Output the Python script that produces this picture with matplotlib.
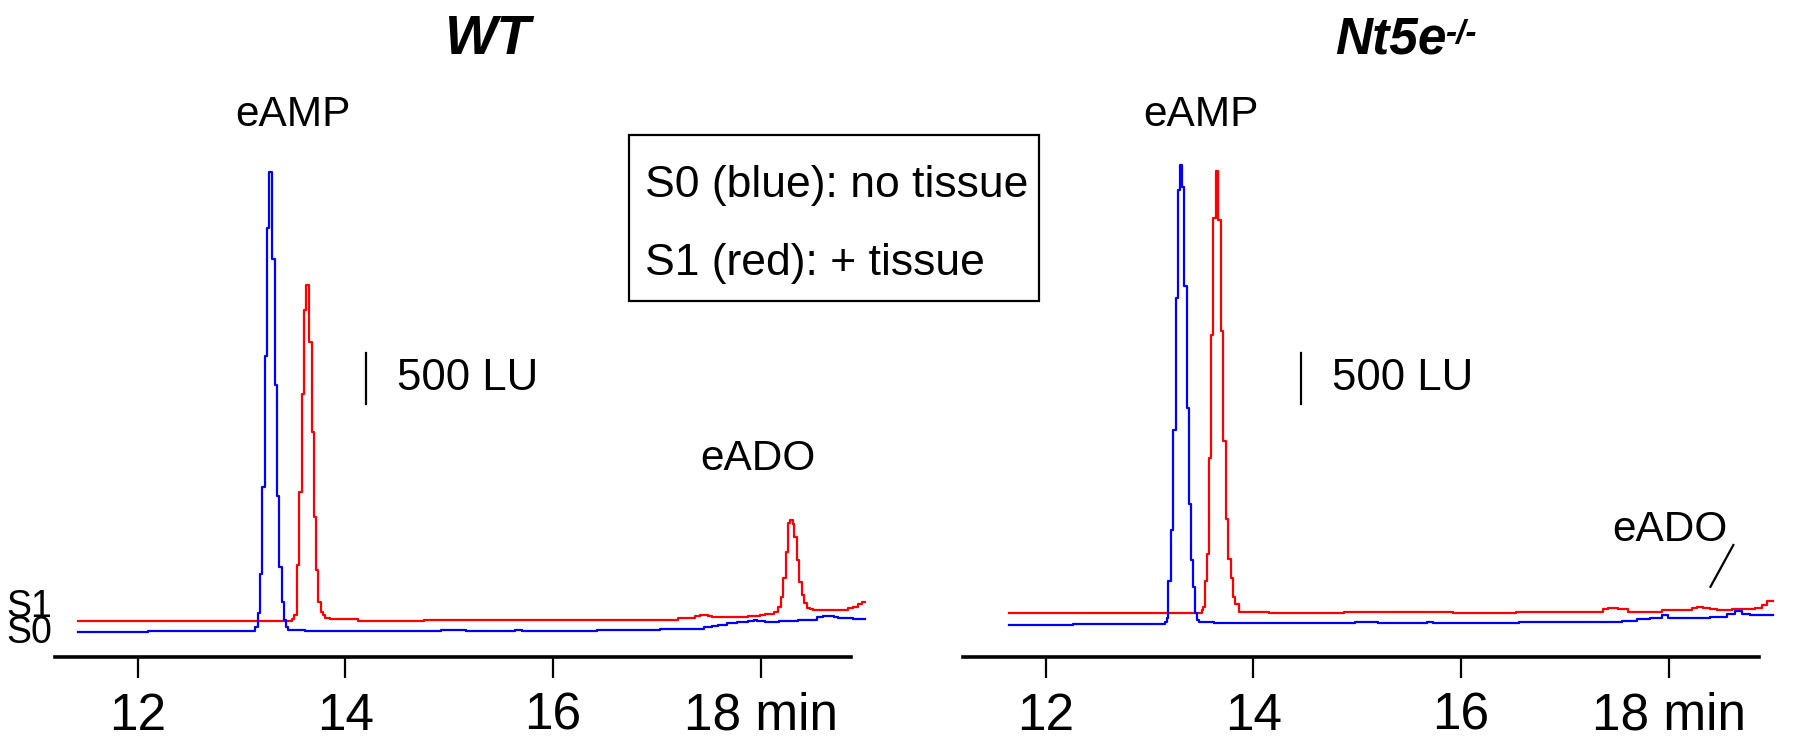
import matplotlib
matplotlib.use('Agg')
import matplotlib.pyplot as plt
from matplotlib.patches import Rectangle

# retention time (min) and signal (LU); each point is a step change of the trace
wt_s0_time = [11.43, 12.10, 13.131, 13.157, 13.179, 13.201, 13.227, 13.250, 13.266, 13.298,
              13.323, 13.346, 13.365, 13.388, 13.410, 13.426, 13.445, 13.484, 13.612, 14.92,
              15.16, 15.63, 15.70, 16.42, 17.03, 17.45, 17.53, 17.59, 17.67, 17.77,
              17.88, 17.93, 17.96, 18.04, 18.17, 18.36, 18.54, 18.60, 18.70, 18.74,
              18.89, 19.00]
wt_s0_lu = [-10, 0, 42, 172, 553, 1400, 2670, 3916, 4455, 3615,
            2393, 1310, 624, 278, 107, 36, 10, 12, 0, 10,
            0, 10, 0, 10, 22, 36, 49, 61, 75, 84,
            94, 107, 94, 84, 97, 107, 133, 149, 139, 126,
            113, 113]

wt_s1_time = [11.43, 13.484, 13.509, 13.532, 13.554, 13.580, 13.602, 13.622, 13.654, 13.676,
              13.699, 13.718, 13.740, 13.763, 13.782, 13.805, 13.853, 14.12, 14.76, 17.205,
              17.366, 17.414, 17.494, 17.526, 17.879, 17.991, 18.039, 18.126, 18.168, 18.193,
              18.216, 18.238, 18.258, 18.280, 18.306, 18.322, 18.344, 18.367, 18.393, 18.415,
              18.441, 18.473, 18.504, 18.841, 18.889, 18.937, 18.970, 19.00]
wt_s1_lu = [0, 14, 55, 540, 1251, 2204, 3019, 3256, 2707, 1833,
            1009, 492, 185, 88, 55, 23, 14, 0, 12, 29,
            46, 55, 46, 33, 43, 55, 68, 87, 136, 233,
            412, 670, 946, 978, 940, 816, 589, 379, 250, 169,
            126, 111, 104, 120, 136, 162, 184, 184]

ko_s0_time = [11.65, 12.26, 13.150, 13.166, 13.182, 13.208, 13.230, 13.253, 13.278, 13.295,
              13.311, 13.336, 13.359, 13.381, 13.400, 13.416, 13.439, 13.455, 13.481, 13.519,
              13.62, 14.98, 15.20, 15.67, 15.73, 16.56, 17.546, 17.690, 17.818, 17.931,
              17.994, 18.059, 18.396, 18.556, 18.636, 18.701, 18.781, 19.00]
ko_s0_lu = [-3, 6, 27, 72, 429, 925, 1891, 3178, 4229, 4470,
            4251, 3290, 2105, 1176, 630, 367, 116, 54, 27, 29,
            16, 29, 16, 29, 16, 29, 39, 55, 68, 94,
            72, 65, 82, 104, 133, 111, 97, 97]

ko_s1_time = [11.65, 13.503, 13.519, 13.535, 13.551, 13.574, 13.593, 13.615, 13.638, 13.663,
              13.686, 13.711, 13.734, 13.760, 13.782, 13.801, 13.824, 13.86, 14.15, 14.87,
              15.84, 15.92, 16.53, 16.86, 17.369, 17.417, 17.513, 17.609, 17.931, 18.219,
              18.268, 18.331, 18.396, 18.460, 18.604, 18.829, 18.893, 18.941, 19.00]
ko_s1_lu = [0, 25, 56, 304, 567, 1505, 2694, 3828, 4292, 3818,
            2735, 1666, 907, 520, 334, 149, 87, 10, -6, 3,
            10, 0, 3, 10, 33, 49, 33, 10, 26, 43,
            58, 43, 33, 26, 36, 49, 75, 117, 117]

# vertical offsets of the stacked traces (LU)
wt_offsets = [0, 100]
ko_offsets = [58, 178]

tick_pos = [12, 14, 16, 18]
tick_labels = ['12', '14', '16', '18 min']

plt.rcParams['font.family'] = ['Liberation Sans', 'DejaVu Sans']

W, H = 1800, 750
fig = plt.figure(figsize=(18, 7.5), dpi=100)


def px_axes(x0, x1, y_top, y_bottom):
    return fig.add_axes([x0 / W, 1 - y_bottom / H, (x1 - x0) / W, (y_bottom - y_top) / H])


def draw_panel(ax, s0_t, s0_v, s1_t, s1_v, offsets, bar_x, eado_xy):
    ax.plot(s1_t, [v + offsets[1] for v in s1_v], drawstyle='steps-post', color='#ff0000', lw=1.6)
    ax.plot(s0_t, [v + offsets[0] for v in s0_v], drawstyle='steps-post', color='#0000ff', lw=1.6)
    ax.set_xlim(11.0, 19.1)
    ax.set_ylim(-252, 5739)
    for s in ['left', 'right', 'top']:
        ax.spines[s].set_visible(False)
    ax.spines['bottom'].set_bounds(11.21, 18.87)
    ax.spines['bottom'].set_linewidth(2.6)
    ax.set_yticks([])
    ax.set_xticks(tick_pos)
    ax.set_xticklabels(tick_labels)
    ax.tick_params(axis='x', length=15, width=1.6, pad=10, labelsize=37)
    # 500 LU scale bar
    ax.plot([bar_x, bar_x], [2204, 2704], color='black', lw=1.6)
    ax.text(bar_x + 0.3, 2454, '500 LU', fontsize=31.5, va='center', ha='left')
    ax.text(13.50, 5010, 'eAMP', fontsize=30.5, va='center', ha='center')
    ax.text(eado_xy[0], eado_xy[1], 'eADO', fontsize=30.5, va='center', ha='center')


ax1 = px_axes(33.6, 875.2, 40, 657)
draw_panel(ax1, wt_s0_time, wt_s0_lu, wt_s1_time, wt_s1_lu, wt_offsets, 14.20, (17.97, 1670))

ax2 = px_axes(941.6, 1783.2, 40, 657)
draw_panel(ax2, ko_s0_time, ko_s0_lu, ko_s1_time, ko_s1_lu, ko_offsets, 14.46, (18.01, 980))
ax2.plot([18.40, 18.62], [430, 835], color='black', lw=1.6)

# trace labels at the left edge
fig.text(6 / W, 1 - 620 / H, 'S1\nS0', fontsize=27, linespacing=0.64, va='center', ha='left')

# panel titles
fig.text(488 / W, 1 - 40 / H, 'WT', fontsize=40, fontweight='bold', fontstyle='italic',
         va='center', ha='center')
t_ko = fig.text(1335 / W, 1 - 40 / H, 'Nt5e', fontsize=37, fontweight='bold', fontstyle='italic',
                va='center', ha='left')
fig.canvas.draw()
bb = t_ko.get_window_extent()
fig.text(bb.x1 / W - 0.001, (bb.y1 - 4) / H, '-/-', fontsize=24, fontweight='bold',
         fontstyle='italic', va='top', ha='left')

# legend box
fig.patches.append(Rectangle((629 / W, 1 - 301 / H), 410 / W, 166 / H, transform=fig.transFigure,
                             fill=False, edgecolor='black', lw=1.6))
fig.text(645 / W, 1 - 186 / H, 'S0 (blue): no tissue', fontsize=32, va='center', ha='left')
fig.text(645 / W, 1 - 264 / H, 'S1 (red): + tissue', fontsize=32, va='center', ha='left')

fig.savefig('out.png', dpi=100)
